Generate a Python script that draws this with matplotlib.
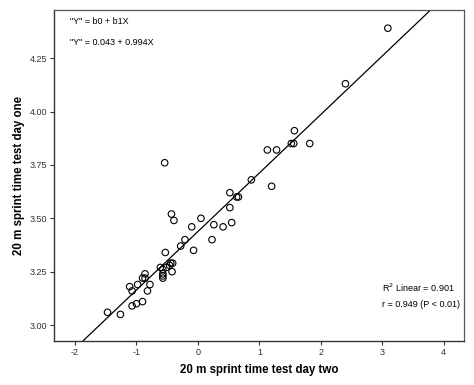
import numpy as np
import matplotlib
matplotlib.use('Agg')
import matplotlib.pyplot as plt

plt.rcParams['font.family'] = ['Liberation Sans', 'DejaVu Sans']
plt.rcParams['axes.unicode_minus'] = False

# sprint times, day two (x, standardised) vs day one (y, seconds)
day_two = [-1.47, -1.26, -1.11, -1.07, -1.07, -1.00, -0.98, -0.90, -0.86, -0.86,
           -0.90, -0.82, -0.78, -0.53, -0.61, -0.57, -0.57, -0.57, -0.57, -0.51,
           -0.46, -0.44, -0.41, -0.42, -0.43, -0.39, -0.28, -0.21, -0.10, -0.07,
           0.05, 0.23, 0.26, 0.41, 0.52, 0.55, 0.52, 0.63, 0.66, -0.54,
           0.87, 1.20, 1.13, 1.28, 1.52, 1.56, 1.57, 1.82, 3.09, 2.40]
day_one = [3.06, 3.05, 3.18, 3.16, 3.09, 3.10, 3.19, 3.22, 3.24, 3.22,
           3.11, 3.16, 3.19, 3.34, 3.27, 3.26, 3.24, 3.23, 3.22, 3.27,
           3.28, 3.29, 3.29, 3.25, 3.52, 3.49, 3.37, 3.40, 3.46, 3.35,
           3.50, 3.40, 3.47, 3.46, 3.55, 3.48, 3.62, 3.60, 3.60, 3.76,
           3.68, 3.65, 3.82, 3.82, 3.85, 3.85, 3.91, 3.85, 4.39, 4.13]

# fitted line as drawn
b0 = 3.438
b1 = 0.274

fig = plt.figure(figsize=(4.74, 3.85), dpi=100)
ax = fig.add_axes([0.114, 0.114, 0.865, 0.861])

ax.scatter(day_two, day_one, s=22, facecolors='none', edgecolors='black', linewidths=0.8, zorder=3)

xl = np.array([-2.35, 4.33])
ax.plot(xl, b0 + b1 * xl, color='black', lw=0.9, zorder=2)

ax.set_xlim(-2.34, 4.33)
ax.set_ylim(2.925, 4.477)
ax.set_xticks([-2, -1, 0, 1, 2, 3, 4])
ax.set_yticks([3.00, 3.25, 3.50, 3.75, 4.00, 4.25])
ax.set_yticklabels(['3.00', '3.25', '3.50', '3.75', '4.00', '4.25'])
ax.tick_params(labelsize=6.5, length=3, width=0.8, colors='#333333', pad=2)

for s in ['left', 'bottom']:
    ax.spines[s].set_color('#333333')
    ax.spines[s].set_linewidth(1.0)
for s in ['top', 'right']:
    ax.spines[s].set_color('#555555')
    ax.spines[s].set_linewidth(0.9)

ax.set_xlabel('20 m sprint time test day two', fontsize=8.3, fontweight='bold', labelpad=5)
ax.set_ylabel('20 m sprint time test day one', fontsize=8.3, fontweight='bold')
ax.yaxis.set_label_coords(-0.07, 0.5)

ax.text(0.04, 0.965, '"Y" = b0 + b1X', transform=ax.transAxes, fontsize=6.5, va='center')
ax.text(0.04, 0.9, '"Y" = 0.043 + 0.994X', transform=ax.transAxes, fontsize=6.5, va='center')
ax.text(0.80, 0.16, 'R$^2$ Linear = 0.901', transform=ax.transAxes, fontsize=6.5, va='center')
ax.text(0.80, 0.11, 'r = 0.949 (P < 0.01)', transform=ax.transAxes, fontsize=6.5, va='center')

fig.savefig('out.png', dpi=100)
